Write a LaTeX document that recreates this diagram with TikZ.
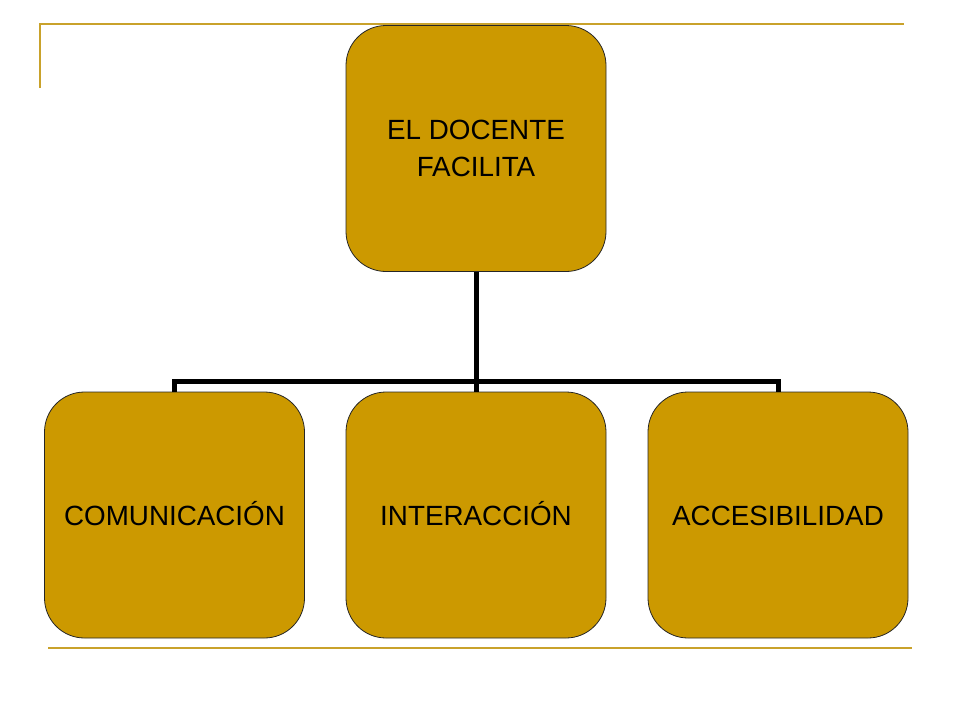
\documentclass[tikz,border=0pt]{standalone}
\usepackage{fontspec}
\setmainfont{Liberation Sans}
\definecolor{boxfill}{HTML}{CC9900}
\definecolor{rulegold}{HTML}{C9A22B}
\begin{document}
\begin{tikzpicture}[x=1pt,y=-1pt,
  orgbox/.style={draw=black!85, line width=0.8pt, fill=boxfill, rounded corners=40pt,
    minimum width=260pt, minimum height=246pt, inner sep=0pt, outer sep=0pt,
    align=center, font=\fontsize{27.8}{37}\selectfont, text=black},
  leafbox/.style={orgbox, text height=20pt, text depth=0pt},
  link/.style={line width=5pt, draw=black},
  deco/.style={draw=rulegold, line width=2.5pt}]
\useasboundingbox (0,0) rectangle (960,720);
\node[orgbox] (top) at (476,148.5) {EL DOCENTE\\FACILITA};
\node[leafbox] (com) at (174.5,515) {COMUNICACIÓN};
\node[leafbox] (int) at (476,515) {INTERACCIÓN};
\node[leafbox] (acc) at (778,515) {ACCESIBILIDAD};
\coordinate (bus) at (476,381);
\draw[link] (top.south) -- (bus);
\draw[link] (com.north) -- (com.north |- bus) -- (acc.north |- bus) -- (acc.north);
\draw[link] (bus) -- (int.north);
\coordinate (tl) at (40,88);
\coordinate (tc) at (40,24);
\coordinate (tr) at (904,24);
\draw[deco] (tl) -- (tc) -- (tr);
\coordinate (bl) at (48,648);
\coordinate (br) at (912,648);
\draw[deco] (bl) -- (br);
\end{tikzpicture}
\end{document}
